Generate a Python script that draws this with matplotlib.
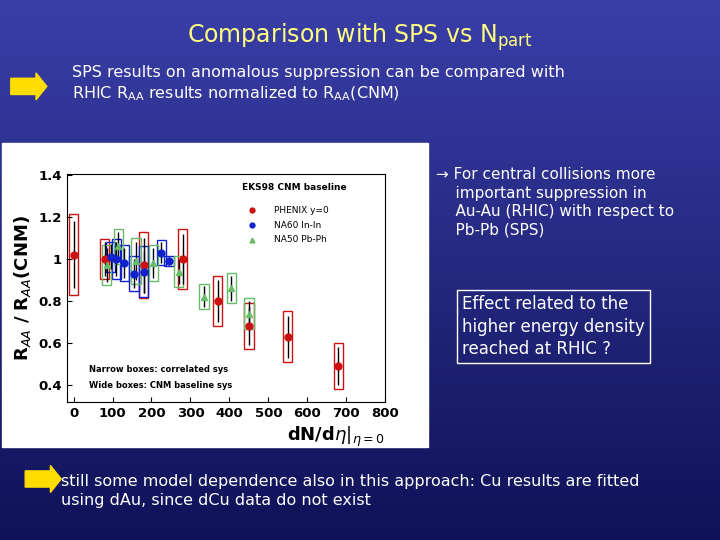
import numpy as np
import matplotlib.pyplot as plt
from matplotlib.patches import Rectangle, FancyArrow

# data
phx_x = [0, 80, 180, 280, 370, 450, 550, 680]
phx_y = [1.02, 1.00, 0.97, 1.00, 0.80, 0.68, 0.63, 0.49]
phx_e = [0.16, 0.08, 0.13, 0.12, 0.10, 0.09, 0.10, 0.09]
na60_x = [95, 110, 130, 155, 180, 225, 245]
na60_y = [1.01, 1.00, 0.98, 0.93, 0.94, 1.03, 0.99]
na60_e = [0.06, 0.08, 0.07, 0.07, 0.10, 0.05, 0.02]
na50_x = [85, 115, 160, 205, 270, 335, 405, 450]
na50_y = [0.97, 1.06, 0.99, 0.98, 0.94, 0.82, 0.86, 0.74]
na50_e = [0.08, 0.07, 0.09, 0.07, 0.06, 0.05, 0.06, 0.06]

fig = plt.figure(figsize=(7.2, 5.4), dpi=100)
bg = fig.add_axes([0, 0, 1, 1])
grad = np.linspace(0, 1, 256)[:, None]
bg.imshow(grad, aspect='auto', extent=[0, 1, 0, 1], origin='upper',
          cmap=plt.matplotlib.colors.LinearSegmentedColormap.from_list('b', ['#3a3fa8', '#0f1257']))
bg.set_xlim(0, 1); bg.set_ylim(0, 1); bg.axis('off')

fig.text(0.5, 0.92, 'Comparison with SPS vs N$_{\\mathregular{part}}$', ha='center', color='#ffff80', fontsize=17)
bg.add_patch(FancyArrow(0.015, 0.84, 0.035, 0, width=0.03, head_width=0.05, head_length=0.015, color='#ffdd00'))
fig.text(0.1, 0.81, 'SPS results on anomalous suppression can be compared with\nRHIC R$_{\\mathregular{AA}}$ results normalized to R$_{\\mathregular{AA}}$(CNM)',
         color='white', fontsize=11.5, va='bottom', linespacing=1.3)
fig.text(0.605, 0.565, '\u2192 For central collisions more\n    important suppression in\n    Au-Au (RHIC) with respect to\n    Pb-Pb (SPS)', color='white', fontsize=11, linespacing=1.3)
fig.text(0.642, 0.345, 'Effect related to the\nhigher energy density\nreached at RHIC ?', color='white', fontsize=12, linespacing=1.3,
         bbox=dict(facecolor='none', edgecolor='white', pad=4))
bg.add_patch(FancyArrow(0.035, 0.113, 0.035, 0, width=0.03, head_width=0.05, head_length=0.015, color='#ffdd00'))
fig.text(0.085, 0.065, 'still some model dependence also in this approach: Cu results are fitted\nusing dAu, since dCu data do not exist',
         color='white', fontsize=11.5, linespacing=1.3)

bg.add_patch(Rectangle((0.003, 0.172), 0.592, 0.563, color='white'))
ax = fig.add_axes([0.093, 0.256, 0.442, 0.422])
ax.set_xlim(-17, 795); ax.set_ylim(0.32, 1.405)
for xs, ys, es, c, m in [(phx_x, phx_y, phx_e, '#cc1111', 'o'), (na60_x, na60_y, na60_e, '#1122cc', 'o'), (na50_x, na50_y, na50_e, '#66bb66', '^')]:
    ax.errorbar(xs, ys, yerr=es, fmt=m, color=c, ecolor='black', ms=5, elinewidth=1, capsize=0)
    for x, y, e in zip(xs, ys, es):
        ax.add_patch(Rectangle((x - 12, y - 1.2 * e), 24, 2.4 * e, fill=False, edgecolor=c, lw=1))
ax.set_yticks([0.4, 0.6, 0.8, 1.0, 1.2, 1.4]); ax.set_yticklabels(['0.4', '0.6', '0.8', '1', '1.2', '1.4'])
ax.set_xticks(range(0, 801, 100))
ax.tick_params(labelsize=9.5, direction='in')
for t in ax.get_xticklabels() + ax.get_yticklabels():
    t.set_fontweight('bold')
ax.set_ylabel('R$_{AA}$ / R$_{AA}$(CNM)', fontsize=13, fontweight='bold')
ax.set_xlabel('dN/d$\\eta|_{\\eta=0}$', fontsize=13, fontweight='bold', loc='right')
ax.text(0.55, 0.93, 'EKS98 CNM baseline', transform=ax.transAxes, fontsize=6.5, fontweight='bold')
for i, (lab, c, m) in enumerate([('PHENIX y=0', '#cc1111', 'o'), ('NA60 In-In', '#1122cc', 'o'), ('NA50 Pb-Ph', '#66bb66', '^')]):
    yy = 0.84 - i * 0.065
    ax.plot([0.58], [yy], m, color=c, ms=3.5, transform=ax.transAxes)
    ax.text(0.65, yy, lab, transform=ax.transAxes, fontsize=6.5, va='center')
ax.text(0.07, 0.13, 'Narrow boxes: correlated sys', transform=ax.transAxes, fontsize=6, fontweight='bold')
ax.text(0.07, 0.06, 'Wide boxes: CNM baseline sys', transform=ax.transAxes, fontsize=6, fontweight='bold')

fig.savefig('out.png', dpi=100)
